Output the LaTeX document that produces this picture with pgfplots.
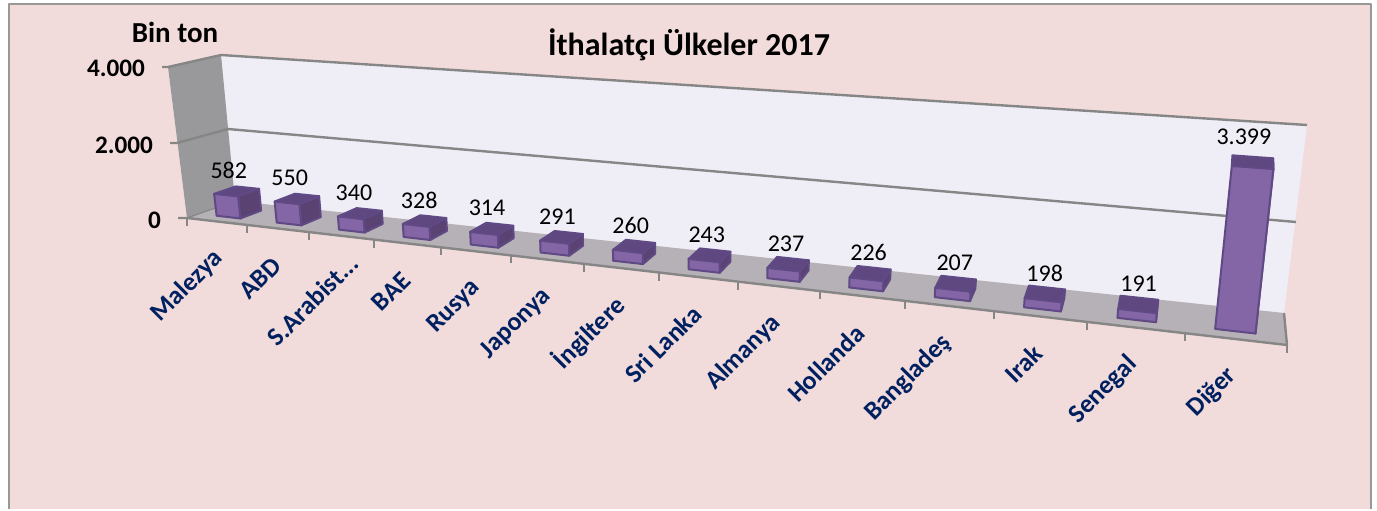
\documentclass[border=0pt]{standalone}
\usepackage{pgfplots}
\usepackage{pgfplotstable}
\usepackage{fontspec}
\setmainfont{Carlito}
\pgfplotsset{compat=1.18}
\definecolor{bgpink}{HTML}{F2DCDB}
\definecolor{frameg}{HTML}{989898}
\definecolor{wallc}{HTML}{EFEDF5}
\definecolor{sidec}{HTML}{99989B}
\definecolor{floorc}{HTML}{B6B1B6}
\definecolor{gridc}{HTML}{868686}
\definecolor{barfront}{HTML}{8465A5}
\definecolor{barside}{HTML}{5A4272}
\definecolor{bartop}{HTML}{5F4880}
\definecolor{baredge}{HTML}{5F4A85}
\definecolor{navy}{HTML}{002060}

% k = category, value in thousand tons, dx dy = nudge of the category label
\pgfplotstableread[col sep=comma]{
k,v,txt,name,dx,dy
0,582,582,Malezya,0,0
1,550,550,ABD,-3,0
2,340,340,S.Arabist...,11,-10
3,328,328,BAE,-2,0
4,314,314,Rusya,0,0
5,291,291,Japonya,0,0
6,260,260,İngiltere,0,0
7,243,243,Sri Lanka,0,0
8,237,237,Almanya,0,0
9,226,226,Hollanda,0,0
10,207,207,Bangladeş,0,0
11,198,198,Irak,0,0
12,191,191,Senegal,0,0
13,3399,3.399,Diğer,0,0
}\imports

% unit shapes of a bar: a across, d in depth, t up
\pgfplotstableread{
a d t
0.3 0.25 0
0.7 0.25 0
0.7 0.25 1
0.3 0.25 1
}\facefront
\pgfplotstableread{
a d t
0.7 0.25 0
0.7 0.7 0
0.7 0.7 1
0.7 0.25 1
}\faceside
\pgfplotstableread{
a d t
0.3 0.25 1
0.7 0.25 1
0.7 0.7 1
0.3 0.7 1
}\facetop
\pgfplotstableread{
n m
0 0
1 0
}\tickshape

\begin{document}
\begin{tikzpicture}[line join=round]
\begin{axis}[
  scale only axis, width=688.5pt, height=254.5pt,
  xmin=0, xmax=1377, ymin=0, ymax=509, y dir=reverse,
  hide axis, clip=false,
  % perspective of the 3D chart, in picture pixels
  declare function={
    S(\u)=(\u/14)/(1.33-0.33*\u/14);
    LX(\d,\w)=(1-\d)*(187-19*\w)+\d*(235-14*\w);
    RX(\d,\w)=(1-\d)*(1287+22*\w)+\d*(1284+23*\w);
    LY(\d,\w)=(1-\d)*(218-151*\w)+\d*(201-146*\w);
    RY(\d,\w)=(1-\d)*(345-197*\w)+\d*(313-188*\w);
    PX(\u,\d,\v)=LX(\d,\v/4000)+S(\u)*(RX(\d,\v/4000)-LX(\d,\v/4000));
    PY(\u,\d,\v)=LY(\d,\v/4000)+S(\u)*(RY(\d,\v/4000)-LY(\d,\v/4000));
  },
  every axis plot/.append style={mark=none},
]
\addplot[fill=white,draw=none] coordinates {(0,0)(1377,0)(1377,509)(0,509)} -- cycle;
\addplot[fill=bgpink,draw=none] coordinates {(9,4)(1370,4)(1370,509)(9,509)} -- cycle;
\addplot[frameg,line width=1pt] coordinates {(8.5,509)(8.5,4)(1370.5,4)(1370.5,509)};
% walls and floor
\addplot[fill=wallc,draw=none] coordinates {(221,55)(1307,125)(1284,313)(235,201)} -- cycle;
\addplot[fill=sidec,draw=none] coordinates {(168,67)(221,55)(235,201)(187,218)} -- cycle;
\addplot[fill=floorc,draw=none] coordinates {(187,218)(235,201)(1284,313)(1287,345)} -- cycle;
% grid lines
\addplot[gridc,line width=1.2pt] coordinates {(162,67)(168,67)(221,55)(1307,125)};
\addplot[gridc,line width=1.2pt] coordinates {(170,143)(177,143)(228,129)(1296,222)};
\addplot[gridc,line width=1.2pt] coordinates {(178,218)(187,218)(1287,345)(1284,313)};
\addplot[gridc,line width=0.6pt] coordinates {(187,218)(235,201)};
% ticks under the floor
\pgfplotsinvokeforeach{0,...,14}{
  \addplot[gridc,line width=1pt] table[x expr={PX(#1,0,0)},y expr={PY(#1,0,0)+\thisrow{n}*8}] \tickshape;
}
% bars
\pgfplotsinvokeforeach{0,...,13}{
  \pgfplotstablegetelem{#1}{v}\of\imports
  \let\val\pgfplotsretval
  \addplot[fill=bartop,draw=baredge,line width=1pt] table[x expr={PX(#1+\thisrow{a},\thisrow{d},\val*\thisrow{t})},y expr={PY(#1+\thisrow{a},\thisrow{d},\val*\thisrow{t})}] \facetop -- cycle;
  \addplot[fill=barside,draw=baredge,line width=1pt] table[x expr={PX(#1+\thisrow{a},\thisrow{d},\val*\thisrow{t})},y expr={PY(#1+\thisrow{a},\thisrow{d},\val*\thisrow{t})}] \faceside -- cycle;
  \addplot[fill=barfront,draw=baredge,line width=1pt] table[x expr={PX(#1+\thisrow{a},\thisrow{d},\val*\thisrow{t})},y expr={PY(#1+\thisrow{a},\thisrow{d},\val*\thisrow{t})}] \facefront -- cycle;
}
% value labels
\addplot[draw=none,point meta=explicit symbolic,
  nodes near coords,
  every node near coord/.append style={anchor=center,xshift=-2.5pt,yshift=10.5pt,font=\fontsize{12}{14}\selectfont,black}]
  table[x expr={PX(\thisrow{k}+0.5,0.45,\thisrow{v})+0.5*\thisrow{k}-0.003*\thisrow{v}},y expr={PY(\thisrow{k}+0.5,0.45,\thisrow{v})-0.0015*\thisrow{v}},meta=txt] \imports;
% category labels
\addplot[draw=none,point meta=explicit symbolic,
  nodes near coords,
  every node near coord/.append style={anchor=east,rotate=45,font=\fontsize{13}{15}\bfseries\selectfont,text=navy}]
  table[x expr={PX(\thisrow{k}+0.5,0,0)+7-0.4*\thisrow{k}+\thisrow{dx}},y expr={PY(\thisrow{k}+0.5,0,0)+28+\thisrow{dy}},meta=name] \imports;
% texts
\node[font=\fontsize{16}{18}\bfseries\selectfont] at (axis cs:689,45) {İthalatçı Ülkeler 2017};
\node[font=\fontsize{14.5}{16}\bfseries\selectfont] at (axis cs:175,32) {Bin ton};
\node[font=\fontsize{12.6}{15}\bfseries\selectfont,anchor=east] at (axis cs:152,68) {4.000};
\node[font=\fontsize{12.6}{15}\bfseries\selectfont,anchor=east] at (axis cs:160,145) {2.000};
\node[font=\fontsize{12.6}{15}\bfseries\selectfont,anchor=east] at (axis cs:168,220) {0};
\end{axis}
\end{tikzpicture}
\end{document}
